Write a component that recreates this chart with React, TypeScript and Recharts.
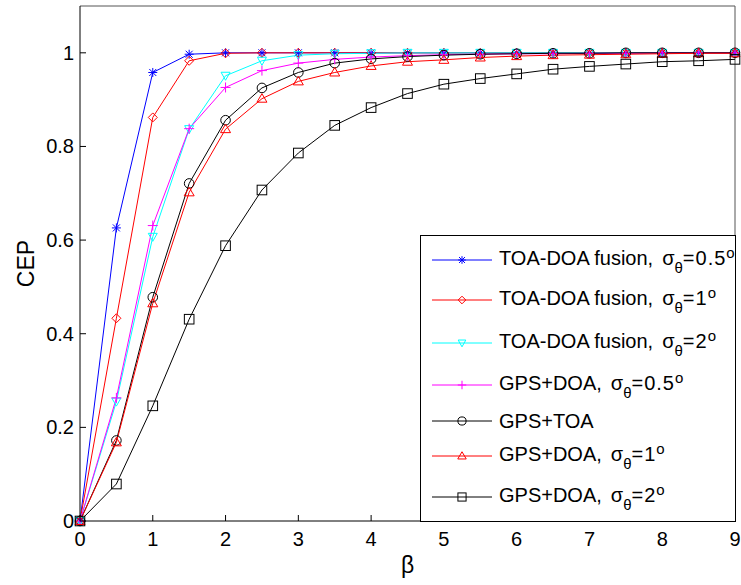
import React from 'react';
import { LineChart, Line, XAxis, YAxis, ReferenceLine } from 'recharts';

// beta values (x axis)
const beta = [0, 0.5, 1, 1.5, 2, 2.5, 3, 3.5, 4, 4.5, 5, 5.5, 6, 6.5, 7, 7.5, 8, 8.5, 9];

// CEP for each method
const toaDoa05 = [0, 0.626, 0.958, 0.997, 1, 1, 1, 1, 1, 1, 1, 1, 1, 1, 1, 1, 1, 1, 1];
const toaDoa1 = [0, 0.433, 0.862, 0.983, 0.999, 1, 1, 1, 1, 1, 1, 1, 1, 1, 1, 1, 1, 1, 1];
const toaDoa2 = [0, 0.255, 0.607, 0.837, 0.951, 0.983, 0.995, 0.998, 0.999, 1, 1, 1, 1, 1, 1, 1, 1, 1, 1];
const gpsDoa05 = [0, 0.263, 0.631, 0.838, 0.926, 0.962, 0.978, 0.986, 0.991, 0.994, 0.996, 0.997, 0.998, 0.998, 0.999, 0.999, 1, 1, 1];
const gpsToa = [0, 0.172, 0.478, 0.721, 0.856, 0.925, 0.958, 0.978, 0.987, 0.992, 0.995, 0.997, 0.998, 0.999, 0.999, 1, 1, 1, 1];
const gpsDoa1 = [0, 0.168, 0.465, 0.702, 0.837, 0.902, 0.939, 0.958, 0.972, 0.981, 0.985, 0.99, 0.993, 0.995, 0.996, 0.997, 0.998, 0.999, 0.999];
const gpsDoa2 = [0, 0.079, 0.246, 0.431, 0.588, 0.707, 0.786, 0.845, 0.883, 0.913, 0.933, 0.945, 0.955, 0.965, 0.971, 0.976, 0.981, 0.983, 0.986];

const xTicks = [0, 1, 2, 3, 4, 5, 6, 7, 8, 9];
const yTicks = [0, 0.2, 0.4, 0.6, 0.8, 1];

type Shape = 'star' | 'diamond' | 'down' | 'plus' | 'circle' | 'up' | 'square';

const series: { key: string; values: number[]; method: string; sigma: string | null; color: string; shape: Shape }[] = [
  { key: 'toaDoa05', values: toaDoa05, method: 'TOA-DOA fusion,', sigma: '0.5', color: '#0000ff', shape: 'star' },
  { key: 'toaDoa1', values: toaDoa1, method: 'TOA-DOA fusion,', sigma: '1', color: '#ff0000', shape: 'diamond' },
  { key: 'toaDoa2', values: toaDoa2, method: 'TOA-DOA fusion,', sigma: '2', color: '#00ffff', shape: 'down' },
  { key: 'gpsDoa05', values: gpsDoa05, method: 'GPS+DOA,', sigma: '0.5', color: '#ff00ff', shape: 'plus' },
  { key: 'gpsToa', values: gpsToa, method: 'GPS+TOA', sigma: null, color: '#000000', shape: 'circle' },
  { key: 'gpsDoa1', values: gpsDoa1, method: 'GPS+DOA,', sigma: '1', color: '#ff0000', shape: 'up' },
  { key: 'gpsDoa2', values: gpsDoa2, method: 'GPS+DOA,', sigma: '2', color: '#000000', shape: 'square' },
];

const data = beta.map((b, i) => {
  const row: Record<string, number> = { beta: b };
  series.forEach((s) => {
    row[s.key] = s.values[i];
  });
  return row;
});

const FONT = "'Liberation Sans', Arial, sans-serif";
const TICK = 6;
// legend row heights, the rows with sub/superscripts sit a bit apart
const ROW_H = [35, 40, 43, 42, 36, 35, 41];

// matlab-ish markers, no fill
const Marker = ({ shape, cx, cy, color, s = 1 }: { shape: Shape; cx: number; cy: number; color: string; s?: number }) => {
  const common = { fill: 'none', stroke: color, strokeWidth: 1 };
  switch (shape) {
    case 'star':
      return (
        <g {...common}>
          <line x1={cx - 4.5 * s} y1={cy} x2={cx + 4.5 * s} y2={cy} />
          <line x1={cx} y1={cy - 4.5 * s} x2={cx} y2={cy + 4.5 * s} />
          <line x1={cx - 3.5 * s} y1={cy - 3.5 * s} x2={cx + 3.5 * s} y2={cy + 3.5 * s} />
          <line x1={cx - 3.5 * s} y1={cy + 3.5 * s} x2={cx + 3.5 * s} y2={cy - 3.5 * s} />
        </g>
      );
    case 'diamond':
      return <polygon {...common} points={`${cx},${cy - 4.5 * s} ${cx + 4.5 * s},${cy} ${cx},${cy + 4.5 * s} ${cx - 4.5 * s},${cy}`} />;
    case 'down':
      return <polygon {...common} points={`${cx - 4.5 * s},${cy - 3.5 * s} ${cx + 4.5 * s},${cy - 3.5 * s} ${cx},${cy + 4.5 * s}`} />;
    case 'up':
      return <polygon {...common} points={`${cx},${cy - 5 * s} ${cx + 5 * s},${cy + 3.5 * s} ${cx - 5 * s},${cy + 3.5 * s}`} />;
    case 'plus':
      return (
        <g {...common}>
          <line x1={cx - 5 * s} y1={cy} x2={cx + 5 * s} y2={cy} />
          <line x1={cx} y1={cy - 5 * s} x2={cx} y2={cy + 5 * s} />
        </g>
      );
    case 'circle':
      return <circle {...common} cx={cx} cy={cy} r={4.8 * s} />;
    case 'square':
      return <rect {...common} x={cx - 4.8 * s} y={cy - 4.8 * s} width={9.6 * s} height={9.6 * s} />;
  }
  return null;
};

const YTick = (props: any) => {
  const { x, y, payload } = props;
  const axisX = x + TICK;
  return (
    <g>
      <line x1={axisX} x2={axisX + TICK} y1={y} y2={y} stroke="#000" />
      <text x={x} y={y} dy="0.35em" textAnchor="end" fontSize={20} fontFamily={FONT} fill="#000">
        {payload.value}
      </text>
    </g>
  );
};

const XTick = (props: any) => {
  const { x, y, payload } = props;
  const axisY = y - TICK - 5;
  return (
    <g>
      <line x1={x} x2={x} y1={axisY} y2={axisY - TICK} stroke="#000" />
      <text x={x} y={y} dy="0.71em" textAnchor="middle" fontSize={20} fontFamily={FONT} fill="#000">
        {payload.value}
      </text>
    </g>
  );
};

const LegendBox = () => (
  <div
    style={{
      position: 'absolute',
      left: 420,
      top: 235,
      width: 316,
      height: 287,
      boxSizing: 'border-box',
      border: '1px solid #000',
      background: '#fff',
      fontFamily: FONT,
      fontSize: 20,
      color: '#000',
    }}
  >
    {series.map((s, i) => (
      <div
        key={s.key}
        style={{ display: 'flex', alignItems: 'flex-end', height: ROW_H[i], whiteSpace: 'nowrap', lineHeight: '22px' }}
      >
        <svg width={60} height={22} style={{ marginLeft: 11, marginRight: 7, flex: 'none' }}>
          <line x1={0} x2={60} y1={11} y2={11} stroke={s.color} strokeWidth={1} />
          <Marker shape={s.shape} cx={30} cy={11} color={s.color} s={0.85} />
        </svg>
        <span>
          {s.method}
          {s.sigma !== null && (
            <>
              <span style={{ marginLeft: 9 }}>σ</span>
              <span style={{ fontSize: 15, position: 'relative', top: 8 }}>θ</span>
              <span style={{ letterSpacing: 1 }}>={s.sigma}</span>
              <span style={{ fontSize: 15, position: 'relative', top: -7 }}>o</span>
            </>
          )}
        </span>
      </div>
    ))}
  </div>
);

export default function App() {
  return (
    <div style={{ position: 'absolute', left: 0, top: 0, width: 741, height: 585, background: '#fff' }}>
      <LineChart width={741} height={585} data={data} margin={{ top: 6, right: 6, bottom: 34, left: 0 }}>
        <XAxis
          dataKey="beta"
          type="number"
          domain={[0, 9]}
          ticks={xTicks}
          height={30}
          tickSize={TICK}
          tickMargin={5}
          tickLine={false}
          tick={XTick}
          axisLine={{ stroke: '#000' }}
          label={{ value: 'β', position: 'bottom', offset: 6, fontSize: 23, fontFamily: FONT, fill: '#000' }}
        />
        <YAxis
          type="number"
          domain={[0, 1.1]}
          ticks={yTicks}
          width={80}
          tickSize={TICK}
          tickMargin={0}
          tickLine={false}
          tick={YTick}
          axisLine={{ stroke: '#000' }}
          label={{ value: 'CEP', angle: -90, position: 'center', dx: -14, fontSize: 23, fontFamily: FONT, fill: '#000' }}
        />
        <ReferenceLine y={1.1} stroke="#555" />
        <ReferenceLine x={9} stroke="#555" />
        {series.map((s) => (
          <Line
            key={s.key}
            dataKey={s.key}
            type="linear"
            stroke={s.color}
            strokeWidth={1}
            isAnimationActive={false}
            activeDot={false}
            dot={(p: any) => <Marker key={`${s.key}-${p.index}`} shape={s.shape} cx={p.cx} cy={p.cy} color={s.color} />}
          />
        ))}
      </LineChart>
      <LegendBox />
    </div>
  );
}
